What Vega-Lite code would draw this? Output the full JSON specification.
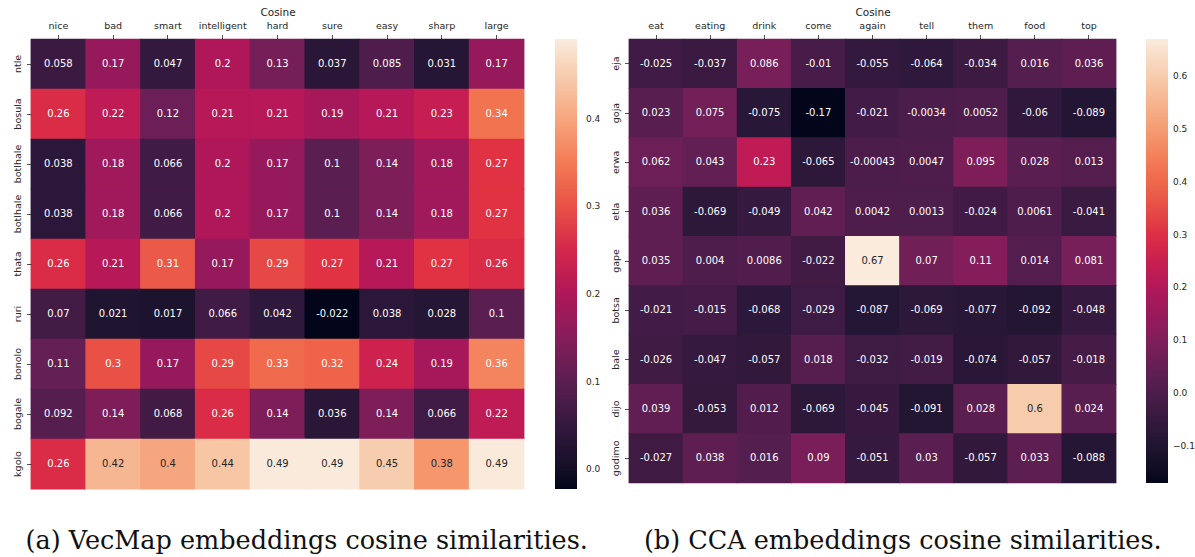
{
  "$schema": "https://vega.github.io/schema/vega-lite/v6.json",
  "padding": {"left": 12, "top": 7, "right": 2, "bottom": 5},
  "background": "white",
  "config": {
    "view": {"stroke": null},
    "font": "DejaVu Sans",
    "axis": {
      "domain": false,
      "grid": false,
      "labelFont": "DejaVu Sans",
      "labelFontSize": 9.5,
      "labelColor": "#262626",
      "tickColor": "#262626",
      "tickSize": 4.5,
      "tickWidth": 0.8,
      "labelPadding": 4,
      "titleFont": "DejaVu Sans",
      "titleFontSize": 10.5,
      "titleFontWeight": "normal",
      "titleColor": "#262626"
    },
    "legend": {
      "labelFont": "DejaVu Sans",
      "labelFontSize": 9,
      "labelColor": "#262626"
    }
  },
  "datasets": {
    "vecmap": [
      {"w": "ntle", "nice": 0.058, "bad": 0.17, "smart": 0.047, "intelligent": 0.2, "hard": 0.13, "sure": 0.037, "easy": 0.085, "sharp": 0.031, "large": 0.17},
      {"w": "bosula", "nice": 0.26, "bad": 0.22, "smart": 0.12, "intelligent": 0.21, "hard": 0.21, "sure": 0.19, "easy": 0.21, "sharp": 0.23, "large": 0.34},
      {"w": "botlhale", "nice": 0.038, "bad": 0.18, "smart": 0.066, "intelligent": 0.2, "hard": 0.17, "sure": 0.1, "easy": 0.14, "sharp": 0.18, "large": 0.27},
      {"w": "botlhale ", "nice": 0.038, "bad": 0.18, "smart": 0.066, "intelligent": 0.2, "hard": 0.17, "sure": 0.1, "easy": 0.14, "sharp": 0.18, "large": 0.27},
      {"w": "thata", "nice": 0.26, "bad": 0.21, "smart": 0.31, "intelligent": 0.17, "hard": 0.29, "sure": 0.27, "easy": 0.21, "sharp": 0.27, "large": 0.26},
      {"w": "ruri", "nice": 0.07, "bad": 0.021, "smart": 0.017, "intelligent": 0.066, "hard": 0.042, "sure": -0.022, "easy": 0.038, "sharp": 0.028, "large": 0.1},
      {"w": "bonolo", "nice": 0.11, "bad": 0.3, "smart": 0.17, "intelligent": 0.29, "hard": 0.33, "sure": 0.32, "easy": 0.24, "sharp": 0.19, "large": 0.36},
      {"w": "bogale", "nice": 0.092, "bad": 0.14, "smart": 0.068, "intelligent": 0.26, "hard": 0.14, "sure": 0.036, "easy": 0.14, "sharp": 0.066, "large": 0.22},
      {"w": "kgolo", "nice": 0.26, "bad": 0.42, "smart": 0.4, "intelligent": 0.44, "hard": 0.49, "sure": 0.49, "easy": 0.45, "sharp": 0.38, "large": 0.49}
    ],
    "cca": [
      {"w": "eja", "eat": -0.025, "eating": -0.037, "drink": 0.086, "come": -0.01, "again": -0.055, "tell": -0.064, "them": -0.034, "food": 0.016, "top": 0.036},
      {"w": "goja", "eat": 0.023, "eating": 0.075, "drink": -0.075, "come": -0.17, "again": -0.021, "tell": -0.0034, "them": 0.0052, "food": -0.06, "top": -0.089},
      {"w": "erwa", "eat": 0.062, "eating": 0.043, "drink": 0.23, "come": -0.065, "again": -0.00043, "tell": 0.0047, "them": 0.095, "food": 0.028, "top": 0.013},
      {"w": "etla", "eat": 0.036, "eating": -0.069, "drink": -0.049, "come": 0.042, "again": 0.0042, "tell": 0.0013, "them": -0.024, "food": 0.0061, "top": -0.041},
      {"w": "gape", "eat": 0.035, "eating": 0.004, "drink": 0.0086, "come": -0.022, "again": 0.67, "tell": 0.07, "them": 0.11, "food": 0.014, "top": 0.081},
      {"w": "botsa", "eat": -0.021, "eating": -0.015, "drink": -0.068, "come": -0.029, "again": -0.087, "tell": -0.069, "them": -0.077, "food": -0.092, "top": -0.048},
      {"w": "bale", "eat": -0.026, "eating": -0.047, "drink": -0.057, "come": 0.018, "again": -0.032, "tell": -0.019, "them": -0.074, "food": -0.057, "top": -0.018},
      {"w": "dijo", "eat": 0.039, "eating": -0.053, "drink": 0.012, "come": -0.069, "again": -0.045, "tell": -0.091, "them": 0.028, "food": 0.6, "top": 0.024},
      {"w": "godimo", "eat": -0.027, "eating": 0.038, "drink": 0.016, "come": 0.09, "again": -0.051, "tell": 0.03, "them": -0.057, "food": 0.033, "top": -0.088}
    ]
  },
  "hconcat": [
    {
      "width": 493,
      "height": 450,
      "title": {"text": "(a) VecMap embeddings cosine similarities.", "orient": "bottom", "frame": "bounds", "anchor": "middle", "font": "DejaVu Serif", "fontSize": 25.5, "fontWeight": "normal", "color": "#111111", "offset": 40},
      "data": {"name": "vecmap"},
      "transform": [{"fold": ["nice", "bad", "smart", "intelligent", "hard", "sure", "easy", "sharp", "large"], "as": ["col", "v"]}],
      "encoding": {
        "x": {"field": "col", "type": "nominal", "sort": null, "scale": {"paddingInner": 0, "paddingOuter": 0},
              "axis": {"orient": "top", "title": "Cosine", "labelAngle": 0, "titlePadding": 3}},
        "y": {"field": "w", "type": "nominal", "sort": null, "scale": {"paddingInner": 0, "paddingOuter": 0},
              "axis": {"title": null, "labelAngle": 270, "labelAlign": "center", "labelBaseline": "bottom"}}
      },
      "layer": [
        {
          "mark": {"type": "rect", "width": {"band": 1.015}, "height": {"band": 1.015}},
          "encoding": {
            "color": {"field": "v", "type": "quantitative",
              "scale": {"domain": [-0.0225, 0.05086, 0.12421, 0.19757, 0.27093, 0.34429, 0.41764, 0.491],
                        "range": ["#03051a", "#35193e", "#701f57", "#ad1759", "#e13342", "#f37651", "#f6b48f", "#faebdd"]},
              "legend": {"orient": "none", "legendX": 524, "legendY": 0, "direction": "vertical", "title": null,
                         "gradientLength": 450, "gradientThickness": 22, "gradientStrokeWidth": 0,
                         "values": [0, 0.1, 0.2, 0.3, 0.4], "format": ".1f", "labelOffset": 9}}
          }
        },
        {
          "mark": {"type": "text", "font": "DejaVu Sans", "fontSize": 10},
          "encoding": {
            "text": {"field": "v", "type": "nominal"},
            "color": {"condition": {"test": "datum.v > 0.37", "value": "#262626"}, "value": "#ffffff"}
          }
        }
      ]
    },
    {
      "width": 487,
      "height": 444,
      "title": {"text": "(b) CCA embeddings cosine similarities.", "orient": "bottom", "frame": "bounds", "anchor": "middle", "font": "DejaVu Serif", "fontSize": 25.5, "fontWeight": "normal", "color": "#111111", "offset": 46},
      "data": {"name": "cca"},
      "transform": [{"fold": ["eat", "eating", "drink", "come", "again", "tell", "them", "food", "top"], "as": ["col", "v"]}],
      "encoding": {
        "x": {"field": "col", "type": "nominal", "sort": null, "scale": {"paddingInner": 0, "paddingOuter": 0},
              "axis": {"orient": "top", "title": "Cosine", "labelAngle": 0, "titlePadding": 3}},
        "y": {"field": "w", "type": "nominal", "sort": null, "scale": {"paddingInner": 0, "paddingOuter": 0},
              "axis": {"title": null, "labelAngle": 270, "labelAlign": "center", "labelBaseline": "bottom"}}
      },
      "layer": [
        {
          "mark": {"type": "rect", "width": {"band": 1.015}, "height": {"band": 1.015}},
          "encoding": {
            "color": {"field": "v", "type": "quantitative",
              "scale": {"domain": [-0.17, -0.05, 0.07, 0.19, 0.31, 0.43, 0.55, 0.67],
                        "range": ["#03051a", "#35193e", "#701f57", "#ad1759", "#e13342", "#f37651", "#f6b48f", "#faebdd"]},
              "legend": {"orient": "none", "legendX": 517, "legendY": 0, "direction": "vertical", "title": null,
                         "gradientLength": 444, "gradientThickness": 22, "gradientStrokeWidth": 0,
                         "values": [-0.1, 0, 0.1, 0.2, 0.3, 0.4, 0.5, 0.6], "format": ".1f", "labelOffset": 5}}
          }
        },
        {
          "mark": {"type": "text", "font": "DejaVu Sans", "fontSize": 10},
          "encoding": {
            "text": {"field": "v", "type": "nominal"},
            "color": {"condition": {"test": "datum.v > 0.5", "value": "#262626"}, "value": "#ffffff"}
          }
        }
      ]
    }
  ],
  "spacing": 105,
  "bounds": "flush",
  "resolve": {"scale": {"color": "independent"}, "legend": {"color": "independent"}}
}
